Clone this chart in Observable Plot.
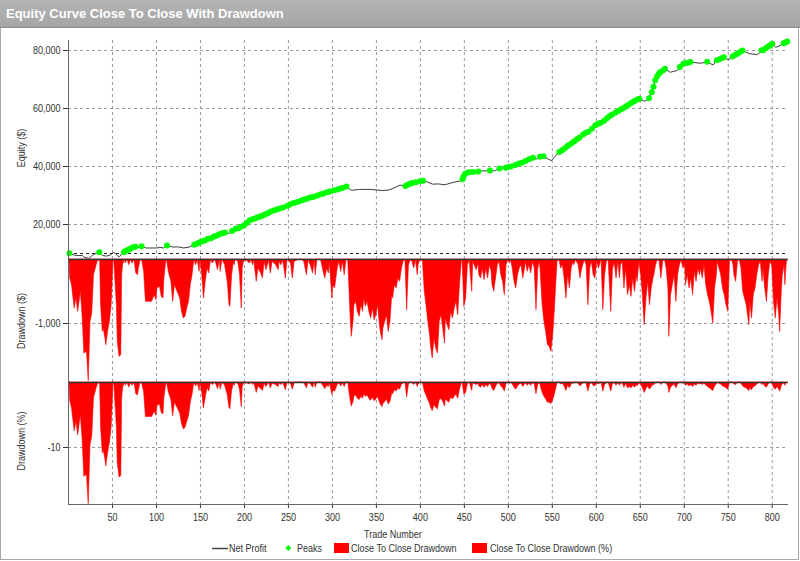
<!DOCTYPE html>
<html><head><meta charset="utf-8">
<script src="https://cdn.jsdelivr.net/npm/d3@7"></script>
<script src="https://cdn.jsdelivr.net/npm/@observablehq/plot@0.6"></script>
<style>
html,body{margin:0;padding:0;background:#fff;}
#chart{position:relative;width:800px;height:561px;overflow:hidden;font-family:"Liberation Sans",Arial,sans-serif;color:#333;}
#frame{position:absolute;left:0;top:0;width:797px;height:558px;border:1px solid #a8a8a8;}
#title{position:absolute;left:0;top:0;width:800px;height:28px;background:linear-gradient(#b4b4b4,#a5a5a5);border-bottom:1px solid #8a8a8a;color:#fff;font-family:"Liberation Sans",Arial,sans-serif;font-weight:bold;font-size:13px;line-height:28px;padding-left:6px;box-sizing:border-box;}
.panel{position:absolute;left:0;}
.panel svg{display:block;overflow:visible;}
.ylab{position:absolute;transform:translate(-50%,-50%) rotate(-90deg) scaleX(.82);white-space:nowrap;font-size:11px;line-height:12px;}
.lt{position:absolute;font-size:11px;line-height:12px;white-space:nowrap;transform:scaleX(.82);transform-origin:0 50%;}
</style></head>
<body>
<div id="chart">
  <div id="frame"></div>
  <div id="title">Equity Curve Close To Close With Drawdown</div>
  <div class="panel" id="p1" style="top:29px"></div>
  <div class="panel" id="p2" style="top:259px"></div>
  <div class="panel" id="p3" style="top:382px"></div>
  <div class="ylab" style="left:21px;top:148px">Equity ($)</div>
  <div class="ylab" style="left:21px;top:321px">Drawdown ($)</div>
  <div class="ylab" style="left:21px;top:441px">Drawdown (%)</div>
  <div class="lt" style="left:364px;top:528px">Trade Number</div>
  <div id="legend"></div>
</div>
<script>
// ---- Data ----
const xTicks = [50,100,150,200,250,300,350,400,450,500,550,600,650,700,750,800];
const equityTicks = [20000,40000,60000,80000];
const ddDollarTicks = [-1000];
const ddPctTicks = [-10];

// Net Profit (equity) curve
const eqTrade = [1,4,7,11,16,18,23,27,30,35,39,43,47,51,53,56,58,61,64,66,70,74,78,83,88,95,100,104,108,112,119,124,131,137,143,147,150,154,160,167,175,183,186,190,197,200,206,215,229,240,252,264,275,286,297,300,306,315,322,331,344,357,364,370,377,385,390,400,405,414,420,428,437,445,451,460,470,484,490,500,510,520,525,532,540,549,553,560,570,580,590,599,608,615,622,635,648,655,660,663,667,671,678,684,692,699,707,718,726,733,737,745,750,756,766,774,783,790,800,804,809,817];
const eqValue = [10100,9800,9400,9300,9300,8700,8300,9300,9900,10400,9300,9100,9400,10300,10100,9100,8900,10100,10500,11000,11600,12200,12000,12500,11900,11900,11900,12100,11900,12800,12200,12300,11900,12200,13000,13300,14000,13700,14800,16000,17000,17000,17800,18500,18500,19800,21500,22500,24500,25500,27000,28200,29300,30300,31400,30900,31700,33000,31800,32100,32100,31700,31900,32600,33600,33000,34000,35000,35000,33900,34000,33700,34500,35000,37500,38000,38500,38500,39300,39800,41000,42000,43000,42600,43400,42000,43500,45500,47800,50000,52000,54200,55300,57500,58600,61000,63300,62500,63300,65600,69700,72000,73700,72500,73100,75400,76000,75600,76000,75000,76600,77700,76800,77900,80000,78900,78600,80200,82300,81100,81700,83100];

// Peaks (new equity highs)
const peakTrade = [1,35,63,64,66,68,70,72,74,76,83,112,143,145,148,150,153,155,158,162,165,167,170,172,175,178,186,190,193,196,200,203,206,209,212,215,218,221,224,227,230,234,237,240,244,249,252,256,260,264,267,270,273,276,279,283,287,290,294,297,302,306,309,312,316,383,386,389,391,395,400,403,448,449,451,454,456,460,466,479,490,497,500,503,508,512,516,520,524,528,536,540,558,561,564,567,569,572,575,578,581,585,588,591,595,599,602,605,609,612,615,618,622,625,628,631,634,637,640,643,646,649,660,663,665,667,669,671,673,676,678,695,699,702,705,707,726,737,740,743,745,755,758,761,764,766,788,790,793,796,798,800,813,815,817];
const peakValue = [10100,10400,10400,10700,11000,11300,11600,11900,12200,12300,12500,12800,13000,13300,13700,14000,14300,14500,15000,15300,15800,16000,16400,16700,17000,17200,17800,18500,18700,19200,19800,20600,21500,21800,22100,22500,22800,23100,23500,24000,24500,24900,25200,25500,25900,26500,27000,27400,27800,28200,28500,28800,29100,29400,29600,30000,30400,30700,31100,31400,31800,32100,32400,32700,33100,33300,33800,34100,34300,34600,35000,35100,35600,36500,37500,37900,38000,38100,38300,38600,39300,39600,39800,40000,40500,41000,41400,42000,42600,43000,43400,43500,45000,45600,46200,47000,47400,48000,48700,49400,50000,51000,51600,52000,53000,54200,54700,55100,55800,56600,57300,57900,58600,59100,59700,60200,60800,61400,62000,62500,63000,63400,63500,65600,67500,69700,71000,72000,72600,73200,73700,74300,75400,75700,75900,76000,76100,76600,77000,77400,77700,77900,78500,79000,79600,80000,80100,80200,80900,81500,81900,82300,82500,82800,83100];

// Close to close drawdown ($) and (%), sampled at the same trades
const ddTrade = [1,2,4,7,9,11,14,16,18,21,23,25,27,29,32,34,36,37,39,40,42,43,45,47,49,50,51,52,53,55,56,58,60,61,62,64,65,67,69,71,73,75,77,79,80,82,84,86,88,92,95,98,100,101,104,106,108,109,111,112,114,117,119,121,124,127,129,131,133,135,137,139,141,143,145,147,149,150,152,154,156,158,160,162,164,167,170,172,173,175,178,181,183,184,186,188,189,190,193,195,197,198,200,202,203,204,206,208,210,211,214,216,219,221,223,225,228,230,232,236,239,240,242,244,246,247,249,253,255,257,261,265,268,271,273,276,278,280,281,283,287,290,292,294,296,297,300,301,303,304,306,308,310,312,314,316,318,319,321,322,324,325,327,329,331,333,335,336,338,340,342,344,346,348,350,352,354,355,357,358,360,362,364,366,368,369,371,373,375,377,379,381,383,385,387,389,391,393,395,397,398,400,403,405,407,409,411,412,414,416,418,420,422,424,426,428,429,431,433,435,437,439,441,443,445,447,448,450,452,454,456,459,460,464,466,467,469,471,473,475,477,479,481,482,484,486,488,490,492,494,496,498,500,502,503,505,507,509,511,513,515,517,519,520,522,524,526,528,530,532,534,536,537,539,541,543,545,547,549,551,553,555,556,558,560,562,564,566,568,570,572,574,575,577,580,582,584,587,589,591,593,595,597,599,601,603,606,608,610,612,614,617,619,621,623,625,627,628,630,632,634,636,638,640,642,644,646,647,649,651,653,655,657,659,661,663,665,666,668,670,672,674,676,678,680,682,683,685,687,689,691,693,695,697,699,701,702,704,706,708,710,712,714,716,718,719,721,723,725,727,729,731,733,735,737,738,740,742,744,746,748,750,752,754,756,757,759,761,763,765,767,769,771,773,774,775,777,779,781,783,785,787,789,790,792,794,796,798,800,802,804,806,808,809,811,812,814,815,816,817];
const ddDollar = [0,-297,-401,-766,-610,-818,-505,-870,-1469,-1443,-1902,-974,-844,-245,-89,0,-36,-714,-1130,-1078,-1235,-1339,-1130,-974,-714,-401,-36,0,-245,-714,-1287,-1521,-1495,-245,-89,0,-63,0,-89,-10,-63,0,-219,-245,-141,0,-36,-193,-662,-662,-662,-557,-636,-453,-427,-584,-610,-297,-36,0,-193,-349,-662,-401,-505,-610,-818,-922,-896,-766,-662,-401,-245,0,-89,-10,-193,0,-245,-610,-349,-141,-219,0,-63,0,-167,0,-193,0,-89,-349,-714,-740,-245,-36,-89,0,-36,-245,-766,-141,0,-36,0,-36,-63,-10,-89,0,-349,-141,-219,-297,-36,-167,-10,-219,-36,-89,-167,-36,-89,-10,-193,-297,0,-63,-297,-36,-10,0,-36,-245,-10,-115,-219,-10,-245,0,0,-193,-297,-141,-219,-36,-610,-401,-453,-349,-141,-36,-193,-36,-245,0,0,-349,-974,-1209,-974,-714,-662,-818,-896,-714,-818,-610,-740,-662,-818,-922,-766,-948,-870,-714,-1026,-1131,-1261,-1078,-974,-870,-1131,-974,-557,-610,-401,-453,-297,-349,-141,-36,0,-792,-89,-10,-36,-141,-10,-245,-89,0,-36,-500,-714,-974,-1183,-1339,-1547,-1235,-1391,-1469,-974,-870,-1078,-1313,-922,-1026,-1105,-818,-922,-766,-662,-870,-401,-36,0,-740,-610,-89,-10,-505,-36,-167,-63,-245,-297,-141,-323,-141,-297,-89,-193,-401,-505,-297,-89,-36,-245,-349,-557,-89,-10,-63,0,-141,-349,-453,-245,-141,-89,-297,-141,-36,-193,-89,-219,-36,-141,-792,-141,-36,-245,-714,-974,-1131,-1339,-1365,-1443,-1183,-766,-245,-36,0,-141,-89,-297,-610,-245,-453,-141,-36,-89,-10,-89,-297,-141,-10,-89,-714,-141,-36,-245,-297,-36,-141,0,-792,-245,-36,0,-818,-141,-63,-297,-36,-297,-89,-36,-453,-141,-557,-401,-584,-297,-505,-245,-349,-36,-245,-557,-1026,-610,-349,-714,-453,-297,-245,-89,0,-36,-297,-36,0,-141,-453,-1209,-557,-401,-245,-662,-245,-89,-10,-141,-89,-401,-245,-453,-297,-557,-193,-349,-141,-245,-141,-297,-89,-401,-557,-662,-818,-1000,-453,-245,-36,-141,-245,-453,-557,-714,-818,-36,0,-89,-245,-349,-36,0,-141,-505,-610,-714,-922,-1026,-662,-922,-557,-453,-245,-89,-36,-349,-141,-453,-662,-245,-36,-89,-662,-922,-610,-870,-1131,-453,-245,-89,-401,-150,0];
const ddPct = [0,-2.9,-4.0,-7.5,-6.0,-8.1,-5.0,-8.6,-14.5,-14.2,-18.7,-9.6,-8.3,-2.4,-0.9,0,-0.3,-6.9,-10.9,-10.4,-11.9,-12.9,-10.9,-9.4,-6.9,-3.9,-0.3,0,-2.4,-6.9,-12.4,-14.6,-14.4,-2.4,-0.9,0,-0.5,0,-0.8,-0.1,-0.5,0,-1.8,-2.0,-1.2,0,-0.3,-1.5,-5.3,-5.3,-5.3,-4.5,-5.1,-3.6,-3.4,-4.7,-4.9,-2.4,-0.3,0,-1.5,-2.7,-5.2,-3.1,-3.9,-4.8,-6.4,-7.2,-7.0,-6.0,-5.2,-3.1,-1.9,0,-0.6,-0.1,-1.3,0,-1.6,-4.0,-2.3,-0.9,-1.4,0,-0.4,0,-1.0,0,-1.1,0,-0.5,-1.9,-3.9,-4.1,-1.3,-0.2,-0.5,0,-0.2,-1.2,-3.8,-0.7,0,-0.2,0,-0.2,-0.3,0,-0.4,0,-1.6,-0.6,-1.0,-1.3,-0.2,-0.7,0,-0.9,-0.2,-0.4,-0.7,-0.1,-0.4,0,-0.8,-1.2,0,-0.2,-1.1,-0.1,0,0,-0.1,-0.9,0,-0.4,-0.8,0,-0.8,0,0,-0.6,-1.0,-0.5,-0.7,-0.1,-1.9,-1.3,-1.4,-1.1,-0.4,-0.1,-0.6,-0.1,-0.7,0,0,-1.1,-3.0,-3.7,-3.0,-2.2,-2.0,-2.5,-2.7,-2.2,-2.5,-1.8,-2.2,-2.0,-2.5,-2.8,-2.3,-2.9,-2.6,-2.2,-3.1,-3.4,-3.8,-3.3,-3.0,-2.6,-3.4,-3.0,-1.7,-1.8,-1.2,-1.4,-0.9,-1.1,-0.4,-0.1,0,-2.3,-0.3,0,-0.1,-0.4,0,-0.7,-0.3,0,-0.1,-1.4,-2.0,-2.7,-3.3,-3.8,-4.4,-3.5,-3.9,-4.1,-2.7,-2.5,-3.0,-3.7,-2.6,-2.9,-3.1,-2.3,-2.6,-2.2,-1.9,-2.5,-1.1,-0.1,0,-1.9,-1.6,-0.2,0,-1.3,-0.1,-0.4,-0.2,-0.6,-0.8,-0.4,-0.8,-0.4,-0.7,-0.2,-0.5,-1.0,-1.3,-0.7,-0.2,-0.1,-0.6,-0.9,-1.4,-0.2,0,-0.2,0,-0.3,-0.8,-1.1,-0.6,-0.3,-0.2,-0.7,-0.3,-0.1,-0.5,-0.2,-0.5,-0.1,-0.3,-1.8,-0.3,-0.1,-0.6,-1.6,-2.2,-2.6,-3.1,-3.1,-3.3,-2.7,-1.8,-0.6,-0.1,0,-0.3,-0.2,-0.6,-1.3,-0.5,-0.9,-0.3,-0.1,-0.2,0,-0.2,-0.6,-0.3,0,-0.2,-1.4,-0.3,-0.1,-0.5,-0.6,-0.1,-0.3,0,-1.4,-0.4,-0.1,0,-1.4,-0.2,-0.1,-0.5,-0.1,-0.5,-0.2,-0.1,-0.8,-0.2,-0.9,-0.7,-0.9,-0.5,-0.8,-0.4,-0.6,-0.1,-0.4,-0.9,-1.6,-1.0,-0.6,-1.1,-0.7,-0.4,-0.4,-0.1,0,0,-0.4,0,0,-0.2,-0.6,-1.6,-0.8,-0.5,-0.3,-0.9,-0.3,-0.1,0,-0.2,-0.1,-0.5,-0.3,-0.6,-0.4,-0.7,-0.3,-0.5,-0.2,-0.3,-0.2,-0.4,-0.1,-0.5,-0.7,-0.9,-1.1,-1.3,-0.6,-0.3,0,-0.2,-0.3,-0.6,-0.7,-0.9,-1.1,0,0,-0.1,-0.3,-0.4,0,0,-0.2,-0.6,-0.8,-0.9,-1.2,-1.3,-0.8,-1.2,-0.7,-0.6,-0.3,-0.1,0,-0.4,-0.2,-0.6,-0.8,-0.3,0,-0.1,-0.8,-1.1,-0.7,-1.1,-1.4,-0.5,-0.3,-0.1,-0.5,-0.2,0];

// ---- Build rows ----
const eqRows = eqTrade.map((t, i) => ({trade: t, equity: eqValue[i]}));
const peakRows = peakTrade.map((t, i) => ({trade: t, equity: peakValue[i]}));
const ddRows = ddTrade.map((t, i) => ({trade: t, dollar: ddDollar[i], pct: ddPct[i]}));

const FONT = '"Liberation Sans",Arial,sans-serif';
const GRID = "#9a9a9a";
const DASH = "3,3";
const AXIS = "#666";
const xDomain = [0, 818.5];
const fmt = d => d.toLocaleString("en-US");
const common = {
  width: 800, marginLeft: 68, marginRight: 12,
  style: {fontFamily: FONT, fontSize: "11px", color: "#333", background: "transparent", overflow: "visible"}
};

// narrow the tick labels horizontally (the reference uses a condensed face)
function condense(svg) {
  svg.querySelectorAll('g[aria-label$="tick label"] text').forEach(t => {
    const w = t.getComputedTextLength();
    if (w > 0) {
      t.setAttribute("textLength", (w * 0.82).toFixed(2));
      t.setAttribute("lengthAdjust", "spacingAndGlyphs");
    }
  });
}

const p1 = Plot.plot({
  ...common, height: 230, marginTop: 11, marginBottom: 0,
  x: {domain: xDomain, axis: null},
  y: {domain: [7930, 83450], ticks: equityTicks, tickFormat: fmt, tickSize: 5, tickPadding: 3, label: null},
  marks: [
    Plot.ruleX(xTicks, {stroke: GRID, strokeDasharray: DASH}),
    Plot.ruleY(equityTicks, {stroke: GRID, strokeDasharray: DASH}),
    Plot.ruleY([10000], {stroke: "#222", strokeDasharray: DASH}),
    Plot.line(eqRows, {x: "trade", y: "equity", stroke: "#3c3c3c", strokeWidth: 1}),
    Plot.dot(peakRows, {x: "trade", y: "equity", r: 3, fill: "#00ff00", stroke: "none"}),
    Plot.ruleX([0], {stroke: AXIS})
  ]
});
document.getElementById("p1").append(p1);
condense(p1);

const p2 = Plot.plot({
  ...common, height: 123, marginTop: 0, marginBottom: 0,
  x: {domain: xDomain, axis: null},
  y: {domain: [-1922, 0], ticks: ddDollarTicks, tickFormat: fmt, tickSize: 5, tickPadding: 3, label: null},
  marks: [
    Plot.ruleX(xTicks, {stroke: GRID, strokeDasharray: DASH}),
    Plot.ruleY(ddDollarTicks, {stroke: GRID, strokeDasharray: DASH}),
    Plot.areaY(ddRows, {x: "trade", y: "dollar", fill: "#ff0000", stroke: "#ff0000", strokeWidth: 0.6}),
    Plot.ruleY([0], {stroke: "#333", strokeWidth: 1.5}),
    Plot.ruleX([0], {stroke: AXIS})
  ]
});
document.getElementById("p2").append(p2);
condense(p2);

const p3 = Plot.plot({
  ...common, height: 160, marginTop: 0, marginBottom: 38,
  x: {domain: xDomain, ticks: xTicks, tickSize: 4, tickPadding: 5, label: null},
  y: {domain: [-18.77, 0], ticks: ddPctTicks, tickFormat: fmt, tickSize: 5, tickPadding: 3, label: null},
  marks: [
    Plot.ruleX(xTicks, {stroke: GRID, strokeDasharray: DASH}),
    Plot.ruleY(ddPctTicks, {stroke: GRID, strokeDasharray: DASH}),
    Plot.areaY(ddRows, {x: "trade", y: "pct", fill: "#ff0000", stroke: "#ff0000", strokeWidth: 0.6}),
    Plot.ruleY([0], {stroke: "#333", strokeWidth: 1.5}),
    Plot.ruleY([-18.77], {stroke: AXIS}),
    Plot.ruleX([0], {stroke: AXIS})
  ]
});
document.getElementById("p3").append(p3);
condense(p3);

// ---- Legend ----
const legend = document.getElementById("legend");
legend.innerHTML = `
  <svg style="position:absolute;left:0;top:0" width="800" height="561">
    <line x1="212" y1="548.5" x2="228" y2="548.5" stroke="#444" stroke-width="1.5"/>
    <path d="M288.3,545 L291.3,548 L288.3,551 L285.3,548 Z" fill="#00ff00"/>
    <rect x="334" y="543" width="15" height="10" fill="#ff0000"/>
    <rect x="472" y="543" width="15" height="10" fill="#ff0000"/>
  </svg>
  <div class="lt" style="left:229px;top:542px">Net Profit</div>
  <div class="lt" style="left:297px;top:542px">Peaks</div>
  <div class="lt" style="left:351px;top:542px">Close To Close Drawdown</div>
  <div class="lt" style="left:490px;top:542px">Close To Close Drawdown (%)</div>`;
</script>
</body></html>
